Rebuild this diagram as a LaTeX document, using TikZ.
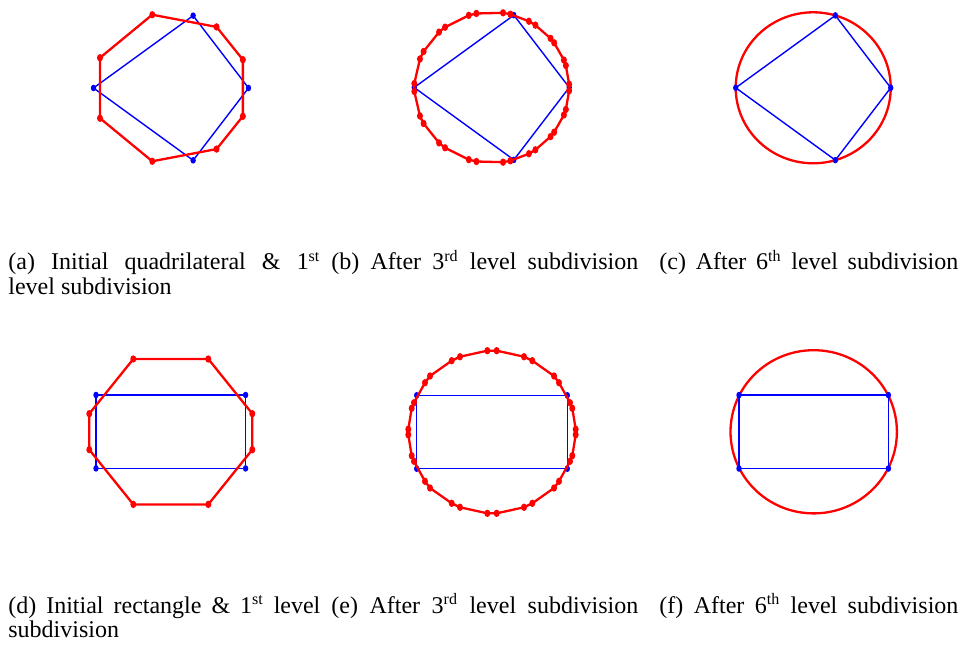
\documentclass[tikz,border=0pt]{standalone}
\usepackage{fontspec}
\setmainfont{Liberation Serif}
\begin{document}
\begin{tikzpicture}[x=0.5pt,y=-0.5pt,
  redline/.style={draw=red,line width=1.15pt,line join=round},
  blueline/.style={draw=blue,line width=0.7pt,line join=round},
  reddot/.style={fill=red},
  bluedot/.style={fill=blue},
  captext/.style={anchor=base west,inner sep=0pt,font=\fontsize{12}{12}\selectfont}]
\useasboundingbox (0,0) rectangle (962,646);
\def\rdot{ellipse[x radius=1.5pt,y radius=1.85pt]}
\def\bdot{ellipse[x radius=1.35pt,y radius=1.65pt]}

% ---------- (a) ----------
\begin{scope}[shift={(171,88)}]
  \draw[blueline] plot[samples at={180,73.4,0,-73.4},variable=\a] ({77.5*cos(\a)},{-75.5*sin(\a)}) -- cycle;
  \foreach \a in {180,73.4,0,-73.4}
    \fill[bluedot] ({77.5*cos(\a)},{-75.5*sin(\a)}) ellipse[x radius=1.35pt,y radius=1.65pt];
  \draw[redline] plot[samples at={22,54,104,156.4,203.6,256,306,338},variable=\a] ({77.5*cos(\a)},{-75.5*sin(\a)}) -- cycle;
  \foreach \a in {22,54,104,156.4,203.6,256,306,338}
    \fill[reddot] ({77.5*cos(\a)},{-75.5*sin(\a)}) ellipse[x radius=1.5pt,y radius=1.85pt];
\end{scope}

% ---------- (b) ----------
\begin{scope}[shift={(491.7,87.5)}]
  \draw[blueline] plot[samples at={180,73.4,0,-73.4},variable=\a] ({77.5*cos(\a)},{-75.5*sin(\a)}) -- cycle;
  \foreach \a in {180,73.4,0,-73.4}
    \fill[bluedot] ({77.5*cos(\a)},{-75.5*sin(\a)}) ellipse[x radius=1.35pt,y radius=1.65pt];
  \def\blist{-2.5,2.5,16.9,21.3,36.3,40.6,55.7,61.3,76.1,81.6,101.4,107.2,127,132.8,151.5,157.8,177,183,202.2,208.5,227.2,233,252.8,258.6,278.4,283.9,298.7,304.3,319.4,323.7,338.7,343.1}
  \draw[redline] plot[samples at=\blist,variable=\a] ({77.5*cos(\a)},{-75.5*sin(\a)}) -- cycle;
  \foreach \a in \blist
    \fill[reddot] ({77.5*cos(\a)},{-75.5*sin(\a)}) ellipse[x radius=1.5pt,y radius=1.85pt];
\end{scope}

% ---------- (c) ----------
\begin{scope}[shift={(813.2,87.8)}]
  \draw[redline] (0,0) ellipse[x radius=38.75pt,y radius=37.75pt];
  \draw[blueline] plot[samples at={180,73.4,0,-73.4},variable=\a] ({77.5*cos(\a)},{-75.5*sin(\a)}) -- cycle;
  \foreach \a in {180,73.4,0,-73.4}
    \fill[bluedot] ({77.5*cos(\a)},{-75.5*sin(\a)}) ellipse[x radius=1.35pt,y radius=1.65pt];
\end{scope}

% ---------- (d) ----------
\begin{scope}[shift={(170.8,431.7)}]
  \draw[blueline] (-74.8,-36.7) rectangle (74.8,36.7);
  \foreach \p in {(-74.8,-36.7),(74.8,-36.7),(74.8,36.7),(-74.8,36.7)}
    \fill[bluedot] \p ellipse[x radius=1.35pt,y radius=1.65pt];
  \draw[redline] (-37.5,-72.7) -- (37.5,-72.7) -- (81.5,-18) -- (81.5,18) -- (37.5,72.7) -- (-37.5,72.7) -- (-81.5,18) -- (-81.5,-18) -- cycle;
  \foreach \p in {(-37.5,-72.7),(37.5,-72.7),(81.5,-18),(81.5,18),(37.5,72.7),(-37.5,72.7),(-81.5,18),(-81.5,-18)}
    \fill[reddot] \p ellipse[x radius=1.5pt,y radius=1.85pt];
\end{scope}

% ---------- (e) ----------
\begin{scope}[shift={(492,432)}]
  \draw[blueline] (-75.3,-36.7) rectangle (75.3,36.7);
  \foreach \p in {(-75.3,-36.7),(75.3,-36.7),(75.3,36.7),(-75.3,36.7)}
    \fill[bluedot] \p ellipse[x radius=1.35pt,y radius=1.65pt];
  \draw[redline] (-4.7,-81.3) -- (4.7,-81.3) -- (32,-75.3) -- (40.3,-71.3) -- (62,-56) -- (67,-49.3) -- (78,-29.3) -- (80.3,-23.7) -- (83.7,-2.8) -- (83.7,2.8) -- (80.3,23.7) -- (78,29.3) -- (67,49.3) -- (62,56) -- (40.3,71.3) -- (32,75.3) -- (4.7,81.3) -- (-4.7,81.3) -- (-32,75.3) -- (-40.3,71.3) -- (-62,56) -- (-67,49.3) -- (-78,29.3) -- (-80.3,23.7) -- (-83.7,2.8) -- (-83.7,-2.8) -- (-80.3,-23.7) -- (-78,-29.3) -- (-67,-49.3) -- (-62,-56) -- (-40.3,-71.3) -- (-32,-75.3) -- cycle;
  \foreach \p in {(-4.7,-81.3),(4.7,-81.3),(32,-75.3),(40.3,-71.3),(62,-56),(67,-49.3),(78,-29.3),(80.3,-23.7),(83.7,-2.8),(83.7,2.8),(80.3,23.7),(78,29.3),(67,49.3),(62,56),(40.3,71.3),(32,75.3),(4.7,81.3),(-4.7,81.3),(-32,75.3),(-40.3,71.3),(-62,56),(-67,49.3),(-78,29.3),(-80.3,23.7),(-83.7,2.8),(-83.7,-2.8),(-80.3,-23.7),(-78,-29.3),(-67,-49.3),(-62,-56),(-40.3,-71.3),(-32,-75.3)}
    \fill[reddot] \p ellipse[x radius=1.5pt,y radius=1.85pt];
\end{scope}

% ---------- (f) ----------
\begin{scope}[shift={(813.7,431.8)}]
  \draw[redline] (0,0) ellipse[x radius=41.6pt,y radius=40.8pt];
  \draw[blueline] (-74.7,-36.7) rectangle (74.7,36.7);
  \foreach \p in {(-74.7,-36.7),(74.7,-36.7),(74.7,36.7),(-74.7,36.7)}
    \fill[bluedot] \p ellipse[x radius=1.35pt,y radius=1.65pt];
\end{scope}

% ---------- captions ----------
\node[captext] (capa1) at (8,270) {\makebox[156pt][s]{(a) Initial quadrilateral \& 1\textsuperscript{st}}};
\node[captext] (capa2) at (8,294) {level subdivision};
\node[captext] (capb) at (331,270) {\makebox[153.5pt][s]{(b) After 3\textsuperscript{rd} level subdivision}};
\node[captext] (capc) at (659,270) {\makebox[149.5pt][s]{(c) After 6\textsuperscript{th} level subdivision}};
\node[captext] (capd1) at (8,613) {\makebox[156pt][s]{(d) Initial rectangle \& 1\textsuperscript{st} level}};
\node[captext] (capd2) at (8,637) {subdivision};
\node[captext] (cape) at (331,613) {\makebox[153.5pt][s]{(e) After 3\textsuperscript{rd} level subdivision}};
\node[captext] (capf) at (659,613) {\makebox[149.5pt][s]{(f) After 6\textsuperscript{th} level subdivision}};
\end{tikzpicture}
\end{document}
